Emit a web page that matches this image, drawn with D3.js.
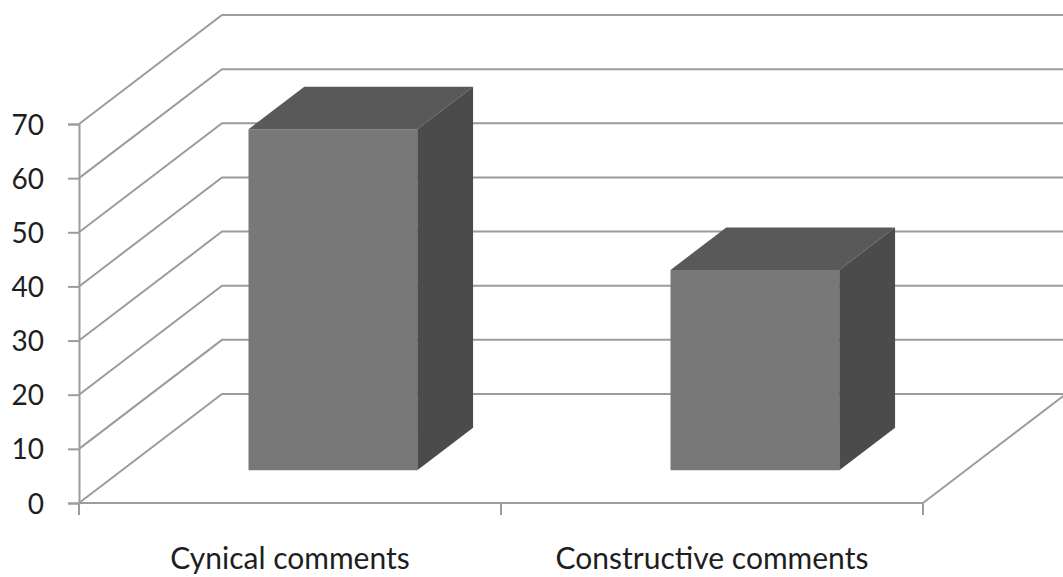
<!DOCTYPE html>
<html>
<head>
<meta charset="utf-8">
<script src="https://cdn.jsdelivr.net/npm/d3@7"></script>
<style>
  body { margin: 0; background: #fff; }
  svg text { font-family: Lato, "Open Sans", sans-serif; fill: #1e1e1e; }
</style>
</head>
<body>
<script>
// chart data
var categories = ['Cynical comments', 'Constructive comments'];
var values = [63, 37];
var yTicks = [0, 10, 20, 30, 40, 50, 60, 70];

var width = 1063, height = 577;

let svg = d3.select('body')
            .append('svg')
            .attr('width', width)
            .attr('height', height);

let x = d3.scaleBand().domain(categories).range([79, 923]);
let y = d3.scaleLinear().domain([0, 70]).range([503, 124]);

// depth of the 3d box: z=0 front, z=1 back wall
let depth = {dx: 143, dy: -109};
let px = (xx, z) => xx + depth.dx * z;
let py = (yy, z) => yy + depth.dy * z;

let gridColor = '#9c9c9c';

// back wall + left wall gridlines
let grid = svg.append('g');
yTicks.forEach((t) => {
    grid.append('polyline')
        .attr('points', [[x.range()[0], y(t)], [px(x.range()[0], 1), py(y(t), 1)], [px(x.range()[1], 1), py(y(t), 1)]].join(' '))
        .attr('fill', 'none')
        .attr('stroke', gridColor)
        .attr('stroke-width', 2);
});

// floor right edge
grid.append('line')
    .attr('x1', x.range()[1]).attr('y1', y(0))
    .attr('x2', px(x.range()[1], 1)).attr('y2', py(y(0), 1))
    .attr('stroke', gridColor).attr('stroke-width', 2);

// y axis
let yAxis = svg.append('g')
    .attr('transform', 'translate(79,0)')
    .call(d3.axisLeft(y).tickValues(yTicks).tickSize(11).tickPadding(24));
yAxis.select('.domain').attr('stroke', gridColor).attr('stroke-width', 2);
yAxis.selectAll('.tick line').attr('stroke', gridColor).attr('stroke-width', 2);
yAxis.selectAll('.tick text').attr('font-size', 28).attr('dy', '0.36em');

// x axis: line with ticks at band edges, labels at band centres
let xAxis = svg.append('g');
xAxis.append('line')
    .attr('x1', x.range()[0]).attr('x2', x.range()[1])
    .attr('y1', y(0)).attr('y2', y(0))
    .attr('stroke', gridColor).attr('stroke-width', 2);
let edges = categories.map((c) => x(c)).concat([x.range()[1]]);
xAxis.selectAll('line.xtick')
    .data(edges)
    .enter()
    .append('line')
    .attr('class', 'xtick')
    .attr('x1', (d) => d).attr('x2', (d) => d)
    .attr('y1', y(0)).attr('y2', y(0) + 12)
    .attr('stroke', gridColor).attr('stroke-width', 2);
xAxis.selectAll('text')
    .data(categories)
    .enter()
    .append('text')
    .attr('x', (d) => x(d) + x.bandwidth() / 2)
    .attr('y', 569)
    .attr('text-anchor', 'middle')
    .attr('font-size', 30)
    .text((d) => d);

// 3d bars
let z0 = 0.30, z1 = 0.69;
let barW = x.bandwidth() * 0.40;

let bars = svg.selectAll('g.bar')
    .data(categories.map((c, i) => ({cat: c, val: values[i]})))
    .enter()
    .append('g')
    .attr('class', 'bar');

bars.each(function (d) {
    let g = d3.select(this);
    let l = x(d.cat) + (x.bandwidth() - barW) / 2;
    let r = l + barW;
    let top = y(d.val), bot = y(0);
    // front face
    g.append('polygon')
        .attr('points', [[px(l, z0), py(top, z0)], [px(r, z0), py(top, z0)], [px(r, z0), py(bot, z0)], [px(l, z0), py(bot, z0)]].join(' '))
        .attr('fill', '#787878');
    // top face
    g.append('polygon')
        .attr('points', [[px(l, z0), py(top, z0)], [px(l, z1), py(top, z1)], [px(r, z1), py(top, z1)], [px(r, z0), py(top, z0)]].join(' '))
        .attr('fill', '#595959');
    // side face
    g.append('polygon')
        .attr('points', [[px(r, z0), py(top, z0)], [px(r, z1), py(top, z1)], [px(r, z1), py(bot, z1)], [px(r, z0), py(bot, z0)]].join(' '))
        .attr('fill', '#4b4b4b');
});
</script>
</body>
</html>
